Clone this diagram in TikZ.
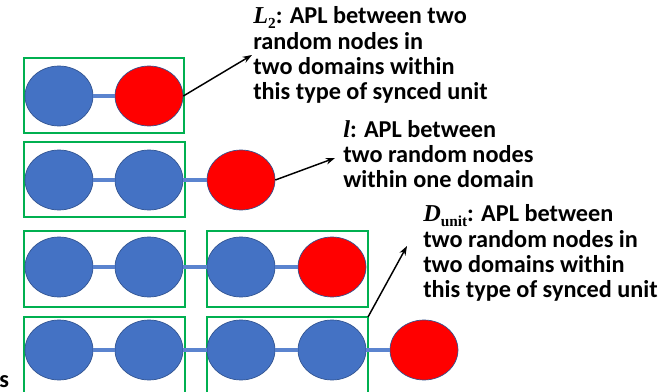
\documentclass[tikz,border=0pt]{standalone}
\usepackage{fontspec}
\setmainfont{Carlito}
\newfontfamily\symfont{Liberation Serif}
\usetikzlibrary{shapes.geometric,arrows.meta}
\definecolor{nodeblue}{HTML}{4472C4}
\definecolor{rimblue}{HTML}{2F528F}
\definecolor{linkblue}{HTML}{5B84CF}
\definecolor{boxgreen}{HTML}{00B050}
\definecolor{hotred}{HTML}{FF0000}
\newcommand{\symvar}[2]{{\symfont\bfseries\itshape #1}\raisebox{-0.2em}{\symfont\bfseries\fontsize{11.5}{11.5}\selectfont #2}}
\tikzset{
  vb/.style={ellipse,draw=rimblue,line width=0.5pt,fill=nodeblue,minimum width=51pt,minimum height=45pt,inner sep=0pt},
  vr/.style={vb,fill=hotred},
  link/.style={draw=linkblue,line width=2.3pt},
  unitbox/.style={draw=boxgreen,line width=1.5pt},
  pointer/.style={draw=black,line width=1.1pt,-{Stealth[length=7pt,width=5pt]}},
  label/.style={anchor=base west,align=left,inner sep=0pt,font=\fontsize{18.2}{19.1}\selectfont\bfseries}
}
\begin{document}
\begin{tikzpicture}[x=0.75pt,y=-0.75pt]
\useasboundingbox (0,0) rectangle (662,392);
% boxes
\draw[unitbox] (24,58) rectangle (184,133);
\draw[unitbox] (24,142) rectangle (185,217);
\draw[unitbox] (24,231) rectangle (185,307);
\draw[unitbox] (207,231) rectangle (368,307);
\draw[unitbox] (24,317) rectangle (185,396);
\draw[unitbox] (207,317) rectangle (368,396);
\coordinate (c4) at (368,317);
% row 1
\node[vb] (a1) at (59,96) {};
\node[vr] (a2) at (149,96) {};
\draw[link] (a1) -- (a2);
% row 2
\node[vb] (b1) at (59,180) {};
\node[vb] (b2) at (149,180) {};
\node[vr] (b3) at (241,180) {};
\draw[link] (b1) -- (b2);
\draw[link] (b2) -- (b3);
% row 3
\node[vb] (r1) at (59,267) {};
\node[vb] (r2) at (149,267) {};
\node[vb] (r3) at (241,267) {};
\node[vr] (r4) at (332,267) {};
\draw[link] (r1) -- (r2);
\draw[link] (r2) -- (r3);
\draw[link] (r3) -- (r4);
% row 4
\node[vb] (d1) at (59,350) {};
\node[vb] (d2) at (149,350) {};
\node[vb] (d3) at (241,350) {};
\node[vb] (d4) at (332,350) {};
\node[vr] (d5) at (424,350) {};
\draw[link] (d1) -- (d2);
\draw[link] (d2) -- (d3);
\draw[link] (d3) -- (d4);
\draw[link] (d4) -- (d5);
% labels (base anchor = baseline of the last line)
\node[label] (t1) at (253,100) {\symvar{L}{2}: APL between two\\random nodes in\\two domains within\\this type of synced unit};
\node[label] (t2) at (343,188) {\symvar{l}{}: APL between\\two random nodes\\within one domain};
\node[label] (t3) at (423,298) {\symvar{D}{unit}: APL between\\two random nodes in\\two domains within\\this type of synced unit};
\node[label] (s) at (-1,388) {s};
\coordinate (p1) at (252,55);
\coordinate (p2) at (335,158);
\coordinate (p3) at (407,246);
\draw[pointer] (a2.east) -- (p1);
\draw[pointer] (b3.east) -- (p2);
\draw[pointer] (c4) -- (p3);
\end{tikzpicture}
\end{document}
